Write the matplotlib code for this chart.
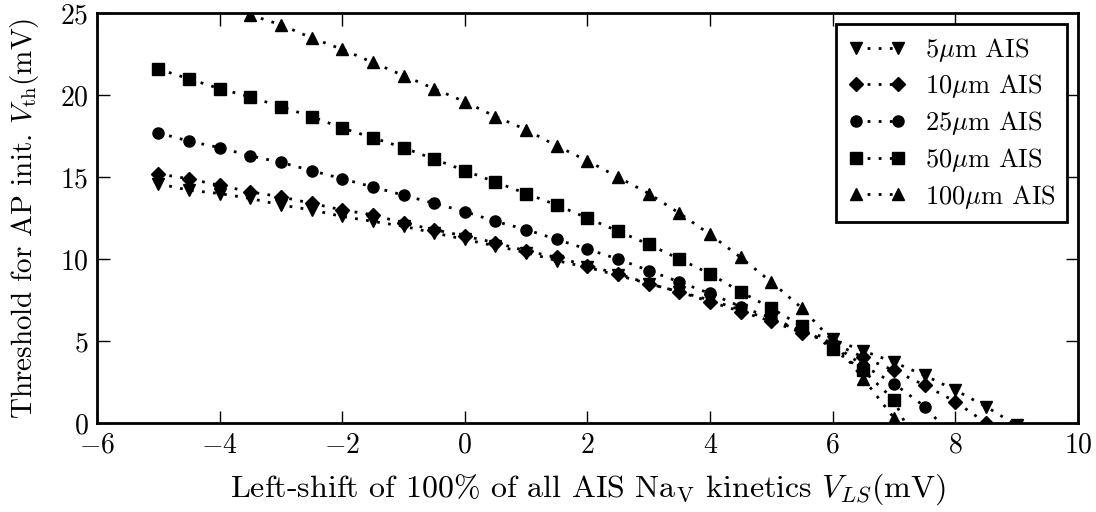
import numpy as np
import matplotlib
matplotlib.use('Agg')
import matplotlib.pyplot as plt

plt.rcParams['font.family'] = 'cmr10'
plt.rcParams['mathtext.fontset'] = 'cm'
plt.rcParams['axes.formatter.use_mathtext'] = True

### data
shift = [-5, -4.5, -4, -3.5, -3, -2.5, -2, -1.5, -1, -0.5, 0, 0.5, 1, 1.5, 2,
         2.5, 3, 3.5, 4, 4.5, 5, 5.5, 6, 6.5, 7, 7.5, 8, 8.5, 9]
nan = np.nan

vth_5 = [14.6, 14.2, 14.0, 13.7, 13.3, 13.0, 12.6, 12.3, 12.0, 11.6, 11.2, 10.8,
         10.4, 9.9, 9.5, 9.0, 8.5, 8.0, 7.5, 6.9, 6.3, 5.6, 5.1, 4.4, 3.7, 2.9,
         2.0, 1.0, -0.15]
vth_10 = [15.2, 14.9, 14.5, 14.1, 13.8, 13.4, 13.0, 12.7, 12.2, 11.8, 11.4, 11.0,
          10.5, 10.1, 9.6, 9.1, 8.5, 8.0, 7.4, 6.8, 6.2, 5.5, 4.9, 4.0, 3.2, 2.3,
          1.3, 0.0]
vth_25 = [17.7, 17.2, 16.8, 16.3, 15.9, 15.4, 14.9, 14.4, 13.9, 13.4, 12.9, 12.3,
          11.8, 11.2, 10.6, 10.0, 9.3, 8.6, 7.9, 7.1, 6.4, 5.6, 4.8, 3.5, 2.4, 1.0,
          -1.0]
vth_50 = [21.6, 21.0, 20.4, 19.9, 19.3, 18.7, 18.0, 17.4, 16.8, 16.1, 15.4, 14.7,
          14.0, 13.3, 12.5, 11.7, 10.9, 10.0, 9.1, 8.0, 7.0, 5.9, 4.5, 3.2, 1.4,
          -2.5]
vth_100 = [nan, nan, nan, 24.9, 24.3, 23.5, 22.8, 22.0, 21.2, 20.4, 19.6, 18.7,
           17.9, 16.9, 16.0, 15.0, 14.0, 12.8, 11.5, 10.1, 8.6, 7.0, 5.0, 2.7, 0.3,
           -2.0]

series = [(vth_5, 'v', r'5$\mu$m AIS'),
          (vth_10, 'D', r'10$\mu$m AIS'),
          (vth_25, 'o', r'25$\mu$m AIS'),
          (vth_50, 's', r'50$\mu$m AIS'),
          (vth_100, '^', r'100$\mu$m AIS')]

fig = plt.figure(figsize=(10.96, 5.12), dpi=100)
ax = fig.add_axes([0.0885, 0.174, 0.895, 0.8])

for vals, mk, lab in series:
    ms = 9 if mk in ('v', '^') else 8
    if mk == 'D':
        ms = 7.5
    ax.plot(shift[:len(vals)], vals, color='k', marker=mk, markersize=ms,
            linestyle=(0, (1, 3)), linewidth=2, label=lab)

ax.set_xlim(-6, 10)
ax.set_ylim(0, 25)
ax.set_xticks([-6, -4, -2, 0, 2, 4, 6, 8, 10])
ax.set_yticks([0, 5, 10, 15, 20, 25])
ax.tick_params(direction='in', top=True, right=True, length=9, width=1,
               labelsize=20)
ax.tick_params(axis='x', pad=7)
ax.tick_params(axis='y', pad=6)
for sp in ax.spines.values():
    sp.set_linewidth(2)

ax.set_xlabel(r'Left-shift of 100% of all AIS Na$_{\rm V}$ kinetics $V_{LS}$(mV)',
              fontsize=23, labelpad=9)
ax.set_ylabel(r'Threshold for AP init. $V_{\rm th}$(mV)', fontsize=21,
              labelpad=14)

leg = ax.legend(loc='upper right', numpoints=2, fontsize=19, fancybox=False,
                framealpha=1, edgecolor='k', borderaxespad=0.4, borderpad=0.45,
                labelspacing=0.33, handlelength=2.2, handletextpad=0.7)
leg.get_frame().set_linewidth(2)

plt.savefig('out.png', dpi=100)
